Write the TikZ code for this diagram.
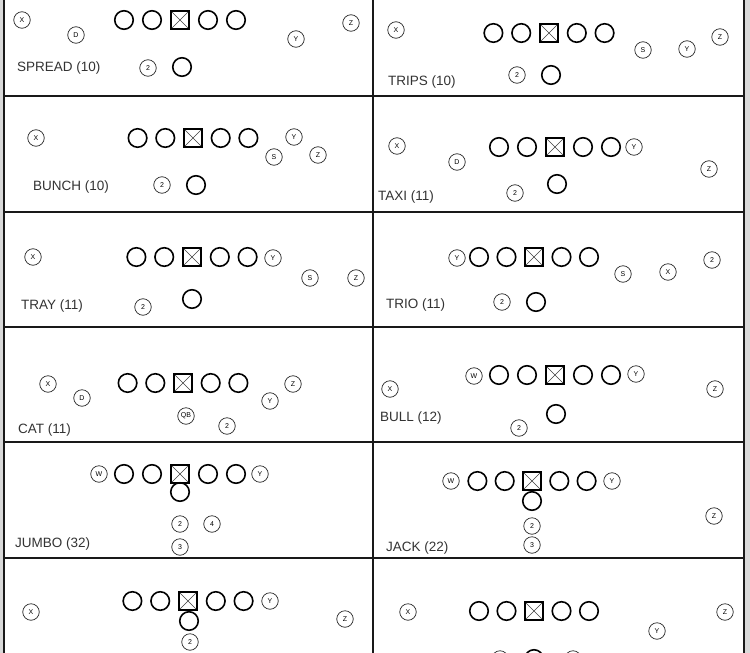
\documentclass[tikz,border=0pt]{standalone}
\usepackage{fontspec}
\setmainfont{Liberation Sans}
\begin{document}
\begin{tikzpicture}[x=1pt,y=-1pt,
  lm/.style={circle,draw=black,line width=1.6pt,minimum size=18.5pt,inner sep=0pt},
  ctr/.style={rectangle,draw=black,line width=2.1pt,minimum size=17.5pt,inner sep=0pt,
    path picture={\draw[line width=0.6pt,black!75] (path picture bounding box.south west)--(path picture bounding box.north east)
      (path picture bounding box.north west)--(path picture bounding box.south east);}},
  pl/.style={circle,draw=black!85,line width=0.7pt,minimum size=16.5pt,inner sep=0pt,
    font=\fontsize{7}{8}\selectfont},
  lbl/.style={anchor=west,inner sep=0pt,font=\fontsize{13.5}{15}\selectfont,text=black!80},
  frame/.style={line width=2.2pt,black!90}]
\useasboundingbox (0,0) rectangle (750,653);
\clip (0,0) rectangle (750,653);
\fill[white] (0,0) rectangle (750,653);
\fill[black!15] (0,0) rectangle (3,653);
\fill[black!15] (745,0) rectangle (750,653);
% frame
\draw[frame] (4,0) -- (4,653) (373,0) -- (373,653) (744,0) -- (744,653);
\foreach \yy in {96,212,327,442,558} \draw[frame] (4,\yy) -- (744,\yy);
\newcommand\oline[4]{%
  \node[lm] (#1a) at (#2-2*#4,#3) {};
  \node[lm] (#1b) at (#2-#4,#3) {};
  \node[ctr] (#1c) at (#2,#3) {};
  \node[lm] (#1d) at (#2+#4,#3) {};
  \node[lm] (#1e) at (#2+2*#4,#3) {};}
% SPREAD
\oline{pa}{180}{20}{28}
\node[pl] (pax) at (22,20) {X};
\node[pl] (pad) at (76,35) {D};
\node[pl] (pay) at (296,39) {Y};
\node[pl] (paz) at (351,23) {Z};
\node[pl] (pa2) at (148,68) {2};
\node[lm] (paq) at (182,67) {};
\node[lbl] (pat) at (17,68) {SPREAD (10)};
% TRIPS
\oline{pb}{549}{33}{27.8}
\node[pl] (pbx) at (396,30) {X};
\node[pl] (pbs) at (643,50) {S};
\node[pl] (pby) at (687,49) {Y};
\node[pl] (pbz) at (720,37) {Z};
\node[pl] (pb2) at (517,75) {2};
\node[lm] (pbq) at (551,75) {};
\node[lbl] (pbt) at (388,82) {TRIPS (10)};
% BUNCH
\oline{pc}{193}{138}{27.7}
\node[pl] (pcx) at (36,138) {X};
\node[pl] (pcy) at (294,137) {Y};
\node[pl] (pcs) at (274,157) {S};
\node[pl] (pcz) at (318,155) {Z};
\node[pl] (pc2) at (162,185) {2};
\node[lm] (pcq) at (196,185) {};
\node[lbl] (pct) at (33,187) {BUNCH (10)};
% TAXI
\oline{pd}{555}{147}{28}
\node[pl] (pdx) at (397,146) {X};
\node[pl] (pdd) at (457,162) {D};
\node[pl] (pdy) at (634,147) {Y};
\node[pl] (pdz) at (709,169) {Z};
\node[lm] (pdq) at (557,184) {};
\node[pl] (pd2) at (515,193) {2};
\node[lbl] (pdt) at (378,197) {TAXI (11)};
% TRAY
\oline{pe}{192}{257}{27.8}
\node[pl] (pex) at (33,257) {X};
\node[pl] (pey) at (273,258) {Y};
\node[pl] (pes) at (310,278) {S};
\node[pl] (pez) at (356,278) {Z};
\node[lm] (peq) at (192,299) {};
\node[pl] (pe2) at (143,307) {2};
\node[lbl] (pet) at (21,306) {TRAY (11)};
% TRIO
\oline{pf}{534}{257}{27.5}
\node[pl] (pfy) at (457,258) {Y};
\node[pl] (pfs) at (623,274) {S};
\node[pl] (pfx) at (668,272) {X};
\node[pl] (pfz) at (712,260) {2};
\node[pl] (pf2) at (502,302) {2};
\node[lm] (pfq) at (536,302) {};
\node[lbl] (pft) at (386,305) {TRIO (11)};
% CAT
\oline{pg}{183}{383}{27.7}
\node[pl] (pgx) at (48,384) {X};
\node[pl] (pgd) at (82,398) {D};
\node[pl] (pgz) at (293,384) {Z};
\node[pl] (pgy) at (270,401) {Y};
\node[pl] (pgq) at (186,416) {QB};
\node[pl] (pg2) at (227,426) {2};
\node[lbl] (pgt) at (18,430) {CAT (11)};
% BULL
\oline{ph}{555}{375}{28}
\node[pl] (phw) at (474,376) {W};
\node[pl] (phy) at (636,374) {Y};
\node[pl] (phx) at (390,389) {X};
\node[pl] (phz) at (715,389) {Z};
\node[lm] (phq) at (556,414) {};
\node[pl] (ph2) at (519,428) {2};
\node[lbl] (pht) at (380,418) {BULL (12)};
% JUMBO
\oline{pi}{180}{474}{28}
\node[pl] (piw) at (99,474) {W};
\node[pl] (piy) at (260,474) {Y};
\node[lm] (pif) at (180,492) {};
\node[pl] (pi2) at (180,524) {2};
\node[pl] (pi4) at (212,524) {4};
\node[pl] (pi3) at (180,547) {3};
\node[lbl] (pit) at (15,544) {JUMBO (32)};
% JACK
\oline{pj}{532}{481}{27.3}
\node[pl] (pjw) at (451,481) {W};
\node[pl] (pjy) at (612,481) {Y};
\node[lm] (pjf) at (532,501) {};
\node[pl] (pjz) at (714,516) {Z};
\node[pl] (pj2) at (532,526) {2};
\node[pl] (pj3) at (532,545) {3};
\node[lbl] (pjt) at (386,548) {JACK (22)};
% bottom left
\oline{pk}{188}{601}{27.8}
\node[pl] (pkx) at (31,612) {X};
\node[pl] (pky) at (270,601) {Y};
\node[lm] (pkf) at (189,621) {};
\node[pl] (pk2) at (190,642) {2};
\node[pl] (pkz) at (345,619) {Z};
% bottom right
\oline{pl}{534}{611}{27.5}
\node[pl] (plx) at (408,612) {X};
\node[pl] (ply) at (657,631) {Y};
\node[pl] (plz) at (725,612) {Z};
\node[pl] (pl2) at (500,659) {};
\node[lm] (plq) at (534,659) {};
\node[pl] (pl3) at (573,659) {};
\end{tikzpicture}
\end{document}
